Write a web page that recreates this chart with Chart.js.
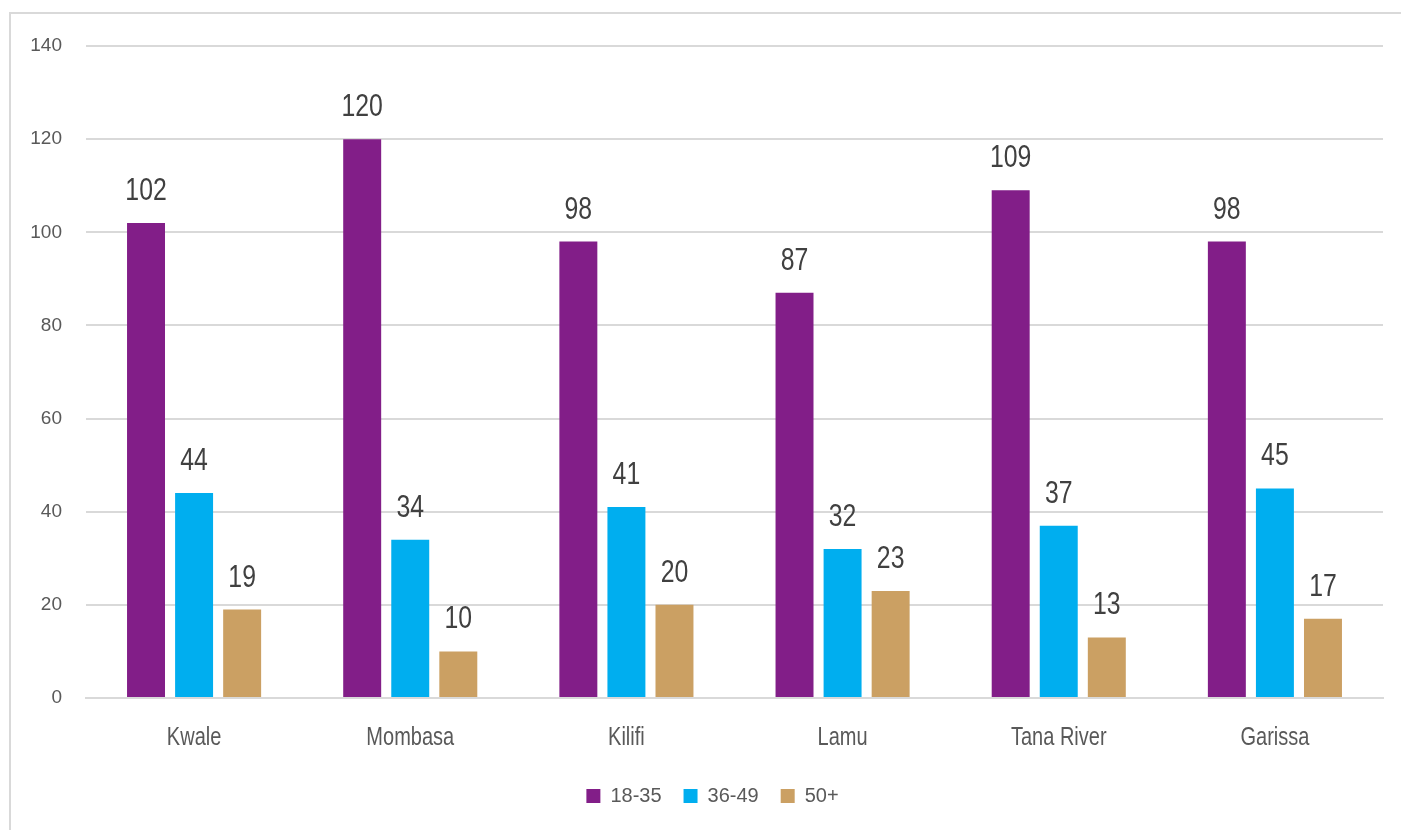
<!DOCTYPE html>
<html>
<head>
<meta charset="utf-8">
<script src="https://cdn.jsdelivr.net/npm/chart.js@4.4.1/dist/chart.umd.min.js"></script>
<style>
  html, body { margin: 0; padding: 0; background: #ffffff; }
  #wrap { position: relative; width: 1401px; height: 830px; overflow: hidden; }
  #frame { position: absolute; left: 9px; top: 12px; width: 1420px; height: 840px;
           border-left: 2px solid #d9d9d9; border-top: 2px solid #d9d9d9; box-sizing: border-box; }
  #c { position: absolute; left: 0; top: 0; }
</style>
</head>
<body>
<div id="wrap">
  <div id="frame"></div>
  <canvas id="c" width="1401" height="830"></canvas>
</div>
<script>
// Counties along the x axis
const counties = ['Kwale', 'Mombasa', 'Kilifi', 'Lamu', 'Tana River', 'Garissa'];

// Age groups
const ageGroups = ['18-35', '36-49', '50+'];

// Counts per county for each age group
const age18to35 = [102, 120, 98, 87, 109, 98];
const age36to49 = [44, 34, 41, 32, 37, 45];
const age50plus = [19, 10, 20, 23, 13, 17];

// Y axis ticks
const yTicks = [0, 20, 40, 60, 80, 100, 120, 140];

const colors = ['#821e88', '#00aeef', '#cba063'];
const FONT = "'Liberation Sans', Arial, sans-serif";

// Draws text squeezed horizontally, for a condensed look
function condensedText(ctx, text, x, y, squeeze) {
  ctx.save();
  ctx.translate(x, y);
  ctx.scale(squeeze, 1);
  ctx.fillText(text, 0, 0);
  ctx.restore();
}

// Value labels above every bar
const valueLabels = {
  id: 'valueLabels',
  afterDatasetsDraw(chart) {
    const ctx = chart.ctx;
    ctx.save();
    ctx.font = '31px ' + FONT;
    ctx.fillStyle = '#404040';
    ctx.textAlign = 'center';
    ctx.textBaseline = 'alphabetic';
    chart.data.datasets.forEach((ds, i) => {
      chart.getDatasetMeta(i).data.forEach((bar, j) => {
        condensedText(ctx, String(ds.data[j]), bar.x, bar.y - 23, 0.8);
      });
    });
    ctx.restore();
  }
};

// County names under the x axis, placed at the scale's tick positions
const countyLabels = {
  id: 'countyLabels',
  afterDraw(chart) {
    const ctx = chart.ctx;
    const xs = chart.scales.x;
    ctx.save();
    ctx.font = '25px ' + FONT;
    ctx.fillStyle = '#595959';
    ctx.textAlign = 'center';
    ctx.textBaseline = 'alphabetic';
    chart.data.labels.forEach((name, i) => {
      condensedText(ctx, name, xs.getPixelForTick(i), xs.top + 47, 0.8);
    });
    ctx.restore();
  }
};

// Nudges the legend a little to the right of the canvas centre
const legendShift = {
  id: 'legendShift',
  afterLayout(chart) {
    chart.legend.left += 21;
    chart.legend.right += 21;
  }
};

new Chart(document.getElementById('c'), {
  type: 'bar',
  data: {
    labels: counties,
    datasets: [
      { label: ageGroups[0], data: age18to35, backgroundColor: colors[0] },
      { label: ageGroups[1], data: age36to49, backgroundColor: colors[1] },
      { label: ageGroups[2], data: age50plus, backgroundColor: colors[2] }
    ]
  },
  options: {
    responsive: false,
    animation: false,
    events: [],
    layout: { padding: { left: 0, right: 18, top: 46, bottom: 14 } },
    datasets: {
      bar: { categoryPercentage: 0.667, barPercentage: 0.79 }
    },
    plugins: {
      tooltip: { enabled: false },
      legend: {
        position: 'bottom',
        labels: {
          boxWidth: 14,
          boxHeight: 14,
          padding: 22,
          color: '#595959',
          font: { family: FONT, size: 20 }
        }
      }
    },
    scales: {
      x: {
        grid: { display: false, drawTicks: false },
        border: { display: true, color: '#d9d9d9', width: 2 },
        ticks: { display: false },
        afterFit(scale) { scale.height = 66; }
      },
      y: {
        min: 0,
        max: 140,
        afterBuildTicks(scale) { scale.ticks = yTicks.map(v => ({ value: v })); },
        grid: { color: '#d9d9d9', lineWidth: 2, drawTicks: false },
        border: { display: false },
        ticks: { color: '#595959', padding: 24, font: { family: FONT, size: 19 } },
        afterFit(scale) { scale.width = 86; }
      }
    }
  },
  plugins: [valueLabels, countyLabels, legendShift]
});
</script>
</body>
</html>
